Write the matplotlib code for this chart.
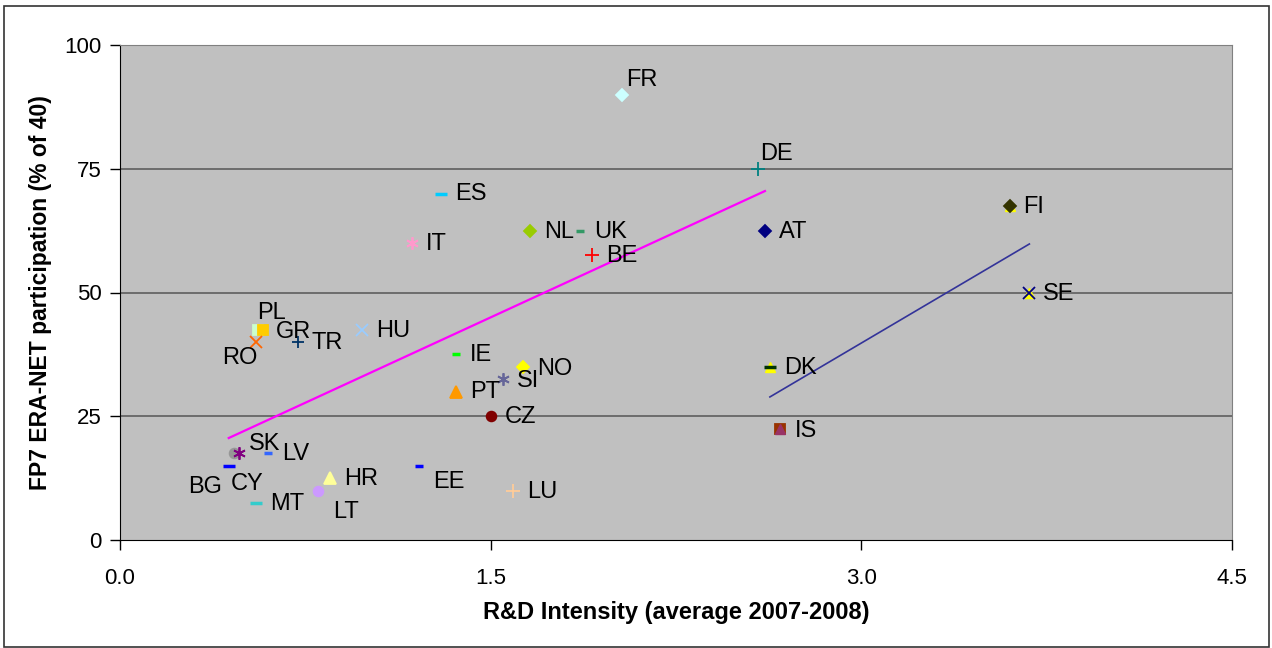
import matplotlib
matplotlib.use('Agg')
import matplotlib.pyplot as plt
from matplotlib.patches import Rectangle

plt.rcParams['font.family'] = ['Liberation Sans', 'DejaVu Sans']

# Country data: R&D intensity (x) and FP7 ERA-NET participation (y)
countries = ['FR', 'DE', 'ES', 'IT', 'NL', 'UK', 'BE', 'AT', 'FI', 'SE',
             'GR', 'PL', 'RO', 'TR', 'HU', 'IE', 'NO', 'SI', 'PT', 'CZ',
             'DK', 'IS', 'SK', 'CY', 'LV', 'BG', 'MT', 'LT', 'HR', 'EE', 'LU']
rd_intensity = [2.03, 2.58, 1.30, 1.18, 1.66, 1.86, 1.91, 2.61, 3.60, 3.68,
                0.56, 0.58, 0.55, 0.72, 0.98, 1.36, 1.63, 1.55, 1.36, 1.50,
                2.63, 2.67, 0.46, 0.48, 0.60, 0.44, 0.55, 0.80, 0.85, 1.21, 1.59]
participation = [90, 75, 70, 60, 62.5, 62.5, 57.5, 62.5, 67.5, 50,
                 42.5, 42.5, 40, 40, 42.5, 37.5, 35, 32.5, 30, 25,
                 35, 22.5, 17.5, 17.5, 17.5, 15, 7.5, 10, 12.5, 15, 10]

# Trend line end points
trend1_x = [0.44, 2.61]
trend1_y = [20.6, 70.5]
trend2_x = [2.63, 3.68]
trend2_y = [28.9, 59.8]

asterisk = (6, 2, 0)
# marker, face colour, edge colour, size
styles = {
    'FR': ('D', '#CCFFFF', '#CCFFFF', 6),
    'DE': ('+', '#008080', '#008080', 10),
    'ES': ('_', '#00CCFF', '#00CCFF', 9),
    'IT': (asterisk, '#FF99CC', '#FF99CC', 9),
    'NL': ('D', '#99CC00', '#99CC00', 6),
    'UK': ('_', '#339966', '#339966', 6),
    'BE': ('+', '#FF0000', '#FF0000', 10),
    'AT': ('D', '#000080', '#000080', 6),
    'FI': ('D', '#333300', '#333300', 6),
    'SE': ('x', '#000080', '#000080', 8),
    'GR': ('s', '#CCFFCC', '#CCFFCC', 7),
    'PL': ('s', '#FFCC00', '#FFCC00', 7),
    'RO': ('x', '#FF6600', '#FF6600', 8),
    'TR': ('+', '#003366', '#003366', 9),
    'HU': ('x', '#99CCFF', '#99CCFF', 8),
    'IE': ('_', '#00FF00', '#00FF00', 6),
    'NO': ('D', '#FFFF00', '#FFFF00', 6),
    'SI': (asterisk, '#666699', '#666699', 9),
    'PT': ('^', '#FF9900', '#FF9900', 8),
    'CZ': ('o', '#800000', '#800000', 7),
    'DK': ('_', '#003300', '#003300', 9),
    'IS': ('s', '#993300', '#993300', 7),
    'SK': ('o', '#969696', '#969696', 7),
    'CY': (asterisk, '#800080', '#800080', 9),
    'LV': ('_', '#3366FF', '#3366FF', 6),
    'BG': ('_', '#0000FF', '#0000FF', 9),
    'MT': ('_', '#33CCCC', '#33CCCC', 9),
    'LT': ('o', '#CC99FF', '#CC99FF', 7),
    'HR': ('^', '#FFFF99', '#FFFF99', 8),
    'EE': ('_', '#0000FF', '#0000FF', 6),
    'LU': ('+', '#FFCC99', '#FFCC99', 10),
}
# extra triangles stacked with some markers (colour, drawn on top?)
extra = {'FI': ('#FFFF00', False), 'SE': ('#FFFF00', False),
         'DK': ('#FFFF00', False), 'IS': ('#993366', True)}

# label offsets in pixels (dx, dy, horizontal alignment)
offsets = {
    'FR': (4, 15, 'left'), 'DE': (3, 15, 'left'), 'GR': (17, -2, 'left'),
    'PL': (-6, 17, 'left'), 'RO': (2, -16, 'right'), 'SK': (15, 9, 'left'),
    'BG': (-7, -21, 'right'), 'CY': (-8, -31, 'left'), 'LT': (15, -22, 'left'),
    'EE': (14, -16, 'left'), 'NO': (14, -2, 'left'), 'SI': (14, -2, 'left'),
    'IS': (15, -2, 'left'),
}

fig = plt.figure(figsize=(12.72, 6.48), dpi=100)
fig.patches.append(Rectangle((0.003, 0.0015), 0.995, 0.99, transform=fig.transFigure,
                             fill=False, edgecolor='#333333', linewidth=1.2))
ax = fig.add_axes([120 / 1272, 108 / 648, 1112 / 1272, 495 / 648])
ax.set_facecolor('#C0C0C0')

for y in [25, 50, 75, 100]:
    ax.axhline(y, color='#555555', linewidth=1.1, zorder=1)

ax.plot(trend1_x, trend1_y, color='#FF00FF', linewidth=1.6, zorder=2)
ax.plot(trend2_x, trend2_y, color='#333399', linewidth=1.2, zorder=2)

for c, x, y in zip(countries, rd_intensity, participation):
    m, fc, ec, s = styles[c]
    if c in extra:
        col, on_top = extra[c]
        ax.plot(x, y, marker='^', color=col, markersize=7, linestyle='none',
                zorder=5 if on_top else 3)
    lw = 2.5 if m == '_' else 1.3
    ax.plot(x, y, marker=m, markerfacecolor=fc, markeredgecolor=ec, markersize=s,
            markeredgewidth=lw, linestyle='none', zorder=4)
    dx, dy, ha = offsets.get(c, (14, -1, 'left'))
    ax.annotate(c, (x, y), xytext=(dx, dy), textcoords='offset pixels',
                ha=ha, va='center', fontsize=17, zorder=6)

ax.set_xlim(0, 4.5)
ax.set_ylim(0, 100)
ax.set_xticks([0, 1.5, 3.0, 4.5])
ax.set_xticklabels(['0.0', '1.5', '3.0', '4.5'])
ax.set_yticks([0, 25, 50, 75, 100])
ax.tick_params(axis='both', direction='out', length=7, width=1, labelsize=16, pad=6)
ax.tick_params(axis='x', pad=13)
for side in ['top', 'right']:
    ax.spines[side].set_color('#808080')
for side in ['left', 'bottom']:
    ax.spines[side].set_color('black')

ax.set_xlabel('R&D Intensity (average 2007-2008)', fontsize=17, fontweight='bold', labelpad=9)
ax.set_ylabel('FP7 ERA-NET participation (% of 40)', fontsize=16.5, fontweight='bold', labelpad=9)

fig.savefig('out.png', dpi=100)
